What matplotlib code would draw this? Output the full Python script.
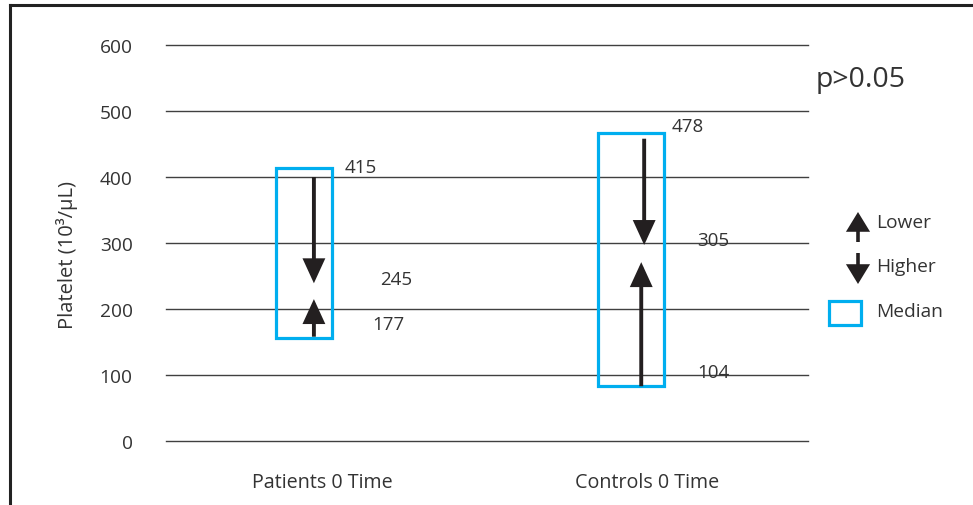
import matplotlib
matplotlib.use("Agg")
import matplotlib.pyplot as plt
from matplotlib.patches import Rectangle, FancyArrowPatch
from matplotlib.lines import Line2D

plt.rcParams['font.family'] = ['Open Sans', 'DejaVu Sans']

# ---- data ----
categories = ["Patients 0 Time", "Controls 0 Time"]
label_values = [[415, 245, 177], [478, 305, 104]]   # higher, median, lower
box_low = [156, 83]
box_high = [414, 467]
down_start = [400, 458]
down_tip = [239, 297]
up_start = [158, 83]
up_tip = [215, 271]
yticks = [0, 100, 200, 300, 400, 500, 600]

TXT = '#333333'
GRID = '#404040'
BLUE = '#00aeef'
ARROW = '#231f20'

W, H = 973, 506
fig = plt.figure(figsize=(W / 100, H / 100), dpi=100)
ax = fig.add_axes([166 / W, (H - 442) / H, (808 - 166) / W, (442 - 46) / H])
ax.set_xlim(-0.48, 1.495)
ax.set_ylim(0, 600)

for v in yticks:
    ax.axhline(v, color=GRID, lw=1.0, zorder=1, clip_on=False)
for s in ax.spines.values():
    s.set_visible(False)
ax.set_yticks(yticks)
ax.set_yticklabels([str(v) for v in yticks], fontsize=13.8, color=TXT)
ax.tick_params(axis='y', length=0, pad=24)
ax.set_xticks([0, 1])
ax.set_xticklabels(categories, fontsize=14.2, color=TXT)
ax.tick_params(axis='x', length=0, pad=22)

box_x = [(-0.142, 0.031), (-0.151, 0.052)]
down_x = [-0.025, -0.009]
up_x = [-0.025, -0.018]
lab_x = [(0.071, 0.178, 0.154), (0.077, 0.154, 0.154)]

STYLE = '-|>,head_length=1.2,head_width=0.55'

def arrow(x, y0, y1):
    p = FancyArrowPatch((x, y0), (x, y1), arrowstyle=STYLE, mutation_scale=11,
                        lw=2.8, color=ARROW, shrinkA=0, shrinkB=0,
                        joinstyle='miter', capstyle='butt', zorder=4)
    ax.add_patch(p)

for i in range(len(categories)):
    x0, x1 = box_x[i]
    ax.add_patch(Rectangle((i + x0, box_low[i]), x1 - x0, box_high[i] - box_low[i],
                           fill=False, edgecolor=BLUE, lw=2.3, zorder=3))
    arrow(i + down_x[i], down_start[i], down_tip[i])
    arrow(i + up_x[i], up_start[i], up_tip[i])
    for lx, v in zip(lab_x[i], label_values[i]):
        ax.text(i + lx, v, str(v), fontsize=13.5, color=TXT, va='center', ha='left', zorder=5)

# p-value
fig.text(816 / W, (H - 80) / H, "p>0.05", fontsize=20.5, color=TXT, va='center', ha='left')

# y label
fig.text(67 / W, (H - 255) / H, "Platelet (10³/μL)", rotation=90, fontsize=14.5,
         color=TXT, va='center', ha='center')

# legend (figure pixels)
def fig_arrow(x, y0, y1):
    fig.add_artist(FancyArrowPatch(
        (x / W, (H - y0) / H), (x / W, (H - y1) / H), transform=fig.transFigure,
        arrowstyle='-|>,head_length=0.95,head_width=0.58', mutation_scale=11,
        lw=2.6, color=ARROW, shrinkA=0, shrinkB=0, joinstyle='miter', capstyle='butt'))

fig_arrow(858, 243, 213)
fig_arrow(858, 254, 285)
fig.add_artist(Rectangle((829 / W, (H - 326) / H), 32 / W, 24 / H, transform=fig.transFigure,
                         fill=False, edgecolor=BLUE, lw=2.3))
for y, t in [(223, "Lower"), (267, "Higher"), (312, "Median")]:
    fig.text(876 / W, (H - y) / H, t, fontsize=13.8, color=TXT, va='center', ha='left')

# outer frame (top and left)
fig.add_artist(Line2D([10 / W, 1], [(H - 5.5) / H, (H - 5.5) / H], transform=fig.transFigure,
                      color='#222222', lw=2.2))
fig.add_artist(Line2D([10 / W, 10 / W], [0, (H - 5.5) / H], transform=fig.transFigure,
                      color='#222222', lw=2.2))

fig.savefig("out.png", dpi=100)
